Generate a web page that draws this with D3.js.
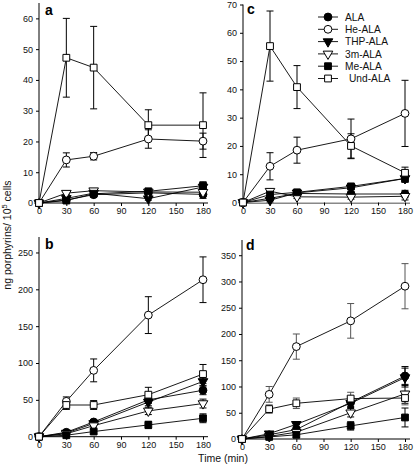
<!DOCTYPE html>
<html><head><meta charset="utf-8">
<script src="https://cdn.jsdelivr.net/npm/d3@7"></script>
<style>body{margin:0;background:#fff}svg{display:block;font-family:"Liberation Sans",Arial,sans-serif}</style>
</head><body><svg id="c" width="415" height="468"></svg>
<script>
const timesMin = [0, 30, 60, 120, 180];
const xTicks = [0, 30, 60, 90, 120, 150, 180];
const seriesNames = ["ALA", "He-ALA", "THP-ALA", "3m-ALA", "Me-ALA", "Und-ALA"];

// panel a
const aALA = [0, 1.0, 2.7, 3.3, 2.8];
const aHe = [0, 14.0, 15.2, 20.8, 20.1];
const aTHP = [0, 1.5, 3.2, 1.4, 5.2];
const a3m = [0, 3.2, 4.0, 3.6, 3.5];
const aMe = [0, 0.8, 3.0, 3.8, 5.6];
const aUnd = [0, 47.2, 44.0, 25.3, 25.3];
const aHeErr = [0, 2.3, 1.2, 3.0, 2.6];
const aUndErr = [0, 12.8, 13.4, 5.0, 10.5];
const aLowErr = [0, 0.5, 0.5, 0.5, 1.3];
const aYTicks = [0, 10, 20, 30, 40, 50, 60];

// panel b
const bALA = [0, 6, 20, 50, 63];
const bHe = [0, 48, 90, 165, 213];
const bTHP = [0, 5, 18, 47, 75];
const b3m = [0, 4, 15, 35, 45];
const bMe = [0, 2, 7, 16, 25];
const bUnd = [0, 43, 43, 57, 85];
const bHeErr = [0, 6, 15.5, 25, 31];
const bUndErr = [0, 6, 6, 10, 13];
const bLowErr = [0, 2, 3, 5, 6];
const bYTicks = [0, 50, 100, 150, 200, 250];

// panel c
const cALA = [0, 1.5, 3.2, 3.0, 3.0];
const cHe = [0, 12.8, 18.5, 22.5, 31.5];
const cTHP = [0, 0.8, 3.4, 5.2, 8.5];
const c3m = [0, 4.0, 2.0, 1.9, 2.2];
const cMe = [0, 2.8, 3.6, 5.7, 8.5];
const cUnd = [0, 55.3, 40.8, 20.0, 10.5];
const cHeErr = [0, 4.8, 4.6, 7.0, 11.7];
const cUndErr = [0, 12.4, 7.6, 4.3, 2.0];
const cLowErr = [0, 0.6, 0.6, 0.7, 1.3];
const cYTicks = [0, 10, 20, 30, 40, 50, 60, 70];

// panel d
const dALA = [0, 8, 18, 70, 120];
const dHe = [0, 85, 176, 225, 291];
const dTHP = [0, 10, 28, 68, 117];
const d3m = [0, 5, 13, 50, 86];
const dMe = [0, 4, 8, 25, 41];
const dUnd = [0, 57, 68, 77, 78];
const dHeErr = [0, 15, 24, 33, 43];
const dUndErr = [0, 8, 10, 12, 13];
const dLowErr = [0, 3, 5, 8, 18];
const dYTicks = [0, 50, 100, 150, 200, 250, 300, 350];

const panels = [
  {id:"a", left:39, right:208, top:3, bottom:203, yMax:65, ticks:aYTicks,
   data:[aALA,aHe,aTHP,a3m,aMe,aUnd], err:[aLowErr,aHeErr,aLowErr,aLowErr,aLowErr,aUndErr], lx:45, ly:15},
  {id:"c", left:243, right:410, top:4.5, bottom:202.5, yMax:70, ticks:cYTicks,
   data:[cALA,cHe,cTHP,c3m,cMe,cUnd], err:[cLowErr,cHeErr,cLowErr,cLowErr,cLowErr,cUndErr], lx:247, ly:14, legend:true, grayAxis:true},
  {id:"b", left:39, right:208, top:237, bottom:436.7, yMax:271, ticks:bYTicks,
   data:[bALA,bHe,bTHP,b3m,bMe,bUnd], err:[bLowErr,bHeErr,bLowErr,bLowErr,bLowErr,bUndErr], lx:45, ly:249},
  {id:"d", left:242, right:410, top:240, bottom:439, yMax:379, ticks:dYTicks,
   data:[dALA,dHe,dTHP,d3m,dMe,dUnd], err:[dLowErr,dHeErr,dLowErr,dLowErr,dLowErr,dUndErr], lx:246, ly:250, grayErr:true}
];

const svg = d3.select("#c");
const sym = {
  circle: d3.symbol().type(d3.symbolCircle).size(48),
  square: d3.symbol().type(d3.symbolSquare).size(46),
  tri: d3.symbol().type(d3.symbolTriangle).size(40)
};
const markerSpec = [
  {s:"circle", fill:"#000"}, {s:"circle", fill:"#fff"}, {s:"tri", fill:"#000"},
  {s:"tri", fill:"#fff"}, {s:"square", fill:"#000"}, {s:"square", fill:"#fff"}
];
function drawMarker(g, spec, x, y) {
  g.append("path").attr("d", sym[spec.s]()).attr("transform", `translate(${x},${y})${spec.s==="tri"?" rotate(180)":""}`)
   .attr("fill", spec.fill).attr("stroke", "#000").attr("stroke-width", 1);
}

panels.forEach(p => {
  const x = d3.scaleLinear().domain([0, 180]).range([p.left, p.left + (p.right - p.left - 5)]);
  const y = d3.scaleLinear().domain([0, p.yMax]).range([p.bottom, p.top]);
  const g = svg.append("g");
  const ya = g.append("g").attr("transform", `translate(${p.left},0)`)
    .call(d3.axisLeft(y).tickValues(p.ticks).tickSize(3).tickPadding(3).tickFormat(d3.format("d")));
  const xa = g.append("g").attr("transform", `translate(0,${p.bottom})`)
    .call(d3.axisBottom(x).tickValues(xTicks).tickSize(3).tickPadding(2));
  [ya, xa].forEach(a => {
    a.select(".domain").attr("stroke", "#000").attr("stroke-width", 1);
    a.selectAll("text").attr("font-size", 9).attr("fill", "#111").attr("font-family", "Liberation Sans, Arial, sans-serif");
  });
  ya.select(".domain").attr("d", `M0,${p.bottom}V${p.top}`);
  xa.select(".domain").attr("d", `M${p.left},0H${p.right}`);
  if (p.grayAxis) xa.select(".domain").attr("stroke", "#888").attr("stroke-width", 1.6).attr("transform", "translate(0,0.8)");
  g.append("text").attr("x", p.lx).attr("y", p.ly).attr("font-size", 14).attr("font-weight", "bold").text(p.id);

  const line = d3.line().x((d, i) => x(timesMin[i])).y(d => y(d));
  p.data.forEach((vals, si) => {
    g.append("path").attr("d", line(vals)).attr("fill", "none").attr("stroke", "#000").attr("stroke-width", 0.9);
  });
  p.data.forEach((vals, si) => {
    const e = p.err[si];
    const col = (p.grayErr && (si === 1 || si === 5)) ? "#555" : "#000";
    vals.forEach((v, i) => {
      if (!e[i]) return;
      const cx = x(timesMin[i]), y1 = y(v + e[i]), y2 = y(Math.max(0, v - e[i]));
      g.append("line").attr("x1", cx).attr("x2", cx).attr("y1", y1).attr("y2", y2).attr("stroke", col).attr("stroke-width", 1);
      [y1, y2].forEach(yy => g.append("line").attr("x1", cx - 3.5).attr("x2", cx + 3.5).attr("y1", yy).attr("y2", yy).attr("stroke", col).attr("stroke-width", 1));
    });
  });
  p.data.forEach((vals, si) => {
    vals.forEach((v, i) => drawMarker(g, markerSpec[si], x(timesMin[i]), y(v)));
  });
  if (p.legend) {
    const lg = svg.append("g");
    seriesNames.forEach((n, i) => {
      const yy = 17 + i * 12.3;
      lg.append("line").attr("x1", 318).attr("x2", 338).attr("y1", yy).attr("y2", yy).attr("stroke", "#000").attr("stroke-width", 0.9);
      drawMarker(lg, markerSpec[i], 328, yy);
      lg.append("text").attr("x", n === "Und-ALA" ? 349 : 345).attr("y", yy + 3.6).attr("font-size", 10.2).attr("fill", "#111").text(n);
    });
  }
});

const yl = svg.append("text").attr("transform", "translate(11,235) rotate(-90)").attr("text-anchor", "middle")
  .attr("font-size", 10.5).attr("fill", "#111");
yl.append("tspan").text("ng porphyrins/ 10");
yl.append("tspan").attr("dy", -4).attr("font-size", 7.5).text("5");
yl.append("tspan").attr("dy", 4).text(" cells");
svg.append("text").attr("x", 223).attr("y", 462).attr("text-anchor", "middle").attr("font-size", 10.5).attr("fill", "#111").text("Time (min)");
</script></body></html>
